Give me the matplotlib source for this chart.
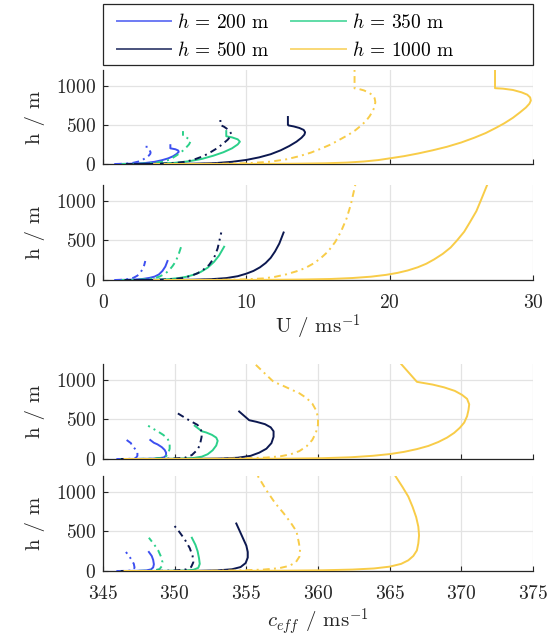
import matplotlib
matplotlib.use("Agg")
import matplotlib.pyplot as plt
from matplotlib.lines import Line2D
from matplotlib.patches import Rectangle

plt.rcParams['font.family'] = 'serif'
plt.rcParams['font.serif'] = ['cmr10']
plt.rcParams['mathtext.fontset'] = 'cm'
plt.rcParams['axes.formatter.use_mathtext'] = True

# =============================================================================
# DATA
# =============================================================================

BL_HEIGHTS = [200, 350, 500, 1000]

# --- panel 1: wind speed U, profiles with low-level jet (dd = dash-dot) ---
u_jet_200 = [0.85, 1.6, 2.3, 3.0, 3.6, 4.1, 4.55, 4.9, 5.15, 5.28, 5.25, 5.05, 4.8, 4.7, 4.7]
z_jet_200 = [0, 2, 6, 14, 28, 48, 72, 100, 130, 155, 172, 188, 197, 200, 240]
u_jet_200_dd = [0.85, 1.3, 1.7, 2.1, 2.45, 2.75, 3.0, 3.2, 3.3, 3.32, 3.25, 3.1, 3.04, 3.04]
z_jet_200_dd = [0, 2, 6, 15, 30, 52, 80, 108, 130, 150, 175, 195, 202, 240]
u_jet_350 = [1.5, 2.7, 3.9, 5.0, 6.0, 6.9, 7.7, 8.4, 9.0, 9.4, 9.55, 9.4, 9.0, 8.7, 8.6, 8.6]
z_jet_350 = [0, 1, 5, 15, 35, 65, 106, 150, 200, 250, 285, 315, 340, 350, 355, 420]
u_jet_350_dd = [1.3, 2.1, 2.9, 3.6, 4.2, 4.7, 5.1, 5.45, 5.75, 6.0, 6.1, 6.05, 5.85, 5.65, 5.58, 5.58]
z_jet_350_dd = [0, 2, 6, 14, 30, 60, 106, 150, 200, 250, 285, 310, 335, 350, 355, 420]
u_jet_500 = [2.2, 4.5, 6.3, 7.8, 9.0, 10.0, 10.9, 11.7, 12.4, 13.0, 13.5, 13.85, 14.05,
             14.1, 14.0, 13.7, 13.3, 12.95, 12.9, 12.9]
z_jet_500 = [0, 1, 4, 11, 28, 52, 85, 125, 175, 230, 285, 335, 375,
             405, 435, 460, 480, 492, 500, 600]
u_jet_500_dd = [1.6, 2.8, 4.0, 5.0, 5.8, 6.4, 7.0, 7.5, 7.95, 8.35, 8.7, 8.9, 8.95,
                8.8, 8.45, 8.2, 8.18]
z_jet_500_dd = [0, 1, 5, 12, 30, 60, 100, 150, 200, 255, 310, 355, 385,
                430, 475, 497, 600]
u_jet_1000 = [4.3, 8, 11, 13.5, 15.5, 17, 18.2, 19.2, 20, 21, 22, 23, 24, 25, 25.9,
              26.7, 27.4, 28.0, 28.6, 29.1, 29.5, 29.75, 29.85, 29.8, 29.6, 29.2,
              28.6, 27.9, 27.35, 27.35]
z_jet_1000 = [0, 0.5, 1.5, 4, 9, 18, 32, 50, 72, 100, 135, 175, 220, 275, 335,
              395, 460, 520, 590, 660, 720, 770, 810, 850, 885, 915,
              945, 962, 968, 1200]
u_jet_1000_dd = [3.5, 6, 8.5, 10.3, 11.7, 12.8, 13.7, 14.5, 15.2, 15.9, 16.5, 17.1,
                 17.6, 18.0, 18.35, 18.6, 18.8, 18.95, 19.0, 18.95, 18.8, 18.55,
                 18.2, 17.8, 17.55, 17.55]
z_jet_1000_dd = [0, 1, 4, 12, 30, 60, 100, 145, 195, 250, 310, 370,
                 430, 490, 550, 610, 670, 730, 790, 840, 880, 910,
                 940, 960, 966, 1200]

# --- panel 2: wind speed U, logarithmic profiles ---
u_log_200 = [0.85, 1.5, 2.2, 2.8, 3.25, 3.6, 3.9, 4.15, 4.35, 4.5]
z_log_200 = [0, 2, 6, 14, 27, 43, 70, 115, 170, 240]
u_log_200_dd = [0.85, 1.2, 1.55, 1.85, 2.15, 2.4, 2.6, 2.75, 2.87, 2.95]
z_log_200_dd = [0, 2, 6, 14, 30, 55, 90, 135, 185, 240]
u_log_350 = [1.5, 2.6, 3.6, 4.5, 5.2, 5.8, 6.3, 6.8, 7.3, 7.75, 8.1, 8.45]
z_log_350 = [0, 1, 4, 10, 22, 40, 65, 100, 155, 230, 310, 420]
u_log_350_dd = [1.3, 2.1, 2.8, 3.4, 3.9, 4.3, 4.6, 4.85, 5.07, 5.27, 5.45]
z_log_350_dd = [0, 2, 7, 18, 40, 75, 120, 175, 234, 320, 420]
u_log_500 = [2.2, 4.5, 6.3, 7.6, 8.6, 9.4, 10.0, 10.5, 10.95, 11.35, 11.7, 12.0, 12.3, 12.6]
z_log_500 = [0, 1, 4, 11, 24, 48, 80, 115, 160, 215, 280, 360, 460, 600]
u_log_500_dd = [1.5, 2.8, 3.9, 4.8, 5.5, 6.1, 6.6, 7.0, 7.4, 7.75, 8.0, 8.25]
z_log_500_dd = [0, 1, 4, 10, 24, 50, 85, 130, 190, 280, 400, 600]
u_log_1000 = [4.3, 8, 11.3, 14, 15.9, 17.4, 18.7, 19.75, 20.55, 21.25, 21.95, 22.55,
              23.1, 23.7, 24.25, 24.7, 25.2, 25.6, 26.05, 26.35, 26.8]
z_log_1000 = [0, 0.5, 2, 6, 13, 25, 42, 65, 90, 120, 160, 205,
              260, 330, 410, 500, 610, 730, 870, 1000, 1200]
u_log_1000_dd = [3.5, 6, 8.3, 10.0, 11.2, 12.0, 12.8, 13.5, 14.1, 14.7, 15.2, 15.7,
                 16.2, 16.6, 17.0, 17.3, 17.6]
z_log_1000_dd = [0, 0.5, 3, 9, 20, 40, 72, 110, 150, 210, 277, 360,
                 480, 610, 780, 960, 1200]

# --- panel 3: effective sound speed, low-level jet ---
c_jet_200 = [346.0, 347.3, 348.3, 348.9, 349.25, 349.4, 349.4, 349.3, 349.1, 348.8, 348.55, 348.3]
zc_jet_200 = [0, 1, 3, 8, 20, 45, 80, 115, 150, 185, 205, 240]
c_jet_200_dd = [346.0, 346.7, 347.1, 347.3, 347.4, 347.4, 347.3, 347.15, 347.0, 346.95, 346.65]
zc_jet_200_dd = [0, 1, 5, 15, 40, 80, 115, 145, 175, 200, 240]
c_jet_350 = [346.3, 348.5, 350.2, 351.3, 351.9, 352.3, 352.65, 352.9, 353.0, 352.9,
             352.6, 352.2, 351.9, 351.4]
zc_jet_350 = [0, 1, 4, 12, 30, 60, 110, 170, 230, 270, 305, 335, 350, 420]
c_jet_350_dd = [346.2, 347.5, 348.5, 349.1, 349.4, 349.55, 349.65, 349.65, 349.5,
                349.2, 348.9, 348.8, 348.15]
zc_jet_350_dd = [0, 1, 5, 15, 35, 70, 130, 200, 260, 305, 340, 350, 420]
c_jet_500 = [346.3, 349, 351.5, 353.2, 354.4, 355.3, 355.9, 356.4, 356.75, 356.9,
             356.9, 356.7, 356.3, 355.7, 355.2, 354.5]
zc_jet_500 = [0, 0.5, 2, 6, 16, 40, 80, 130, 200, 280, 350, 400, 440, 470, 490, 600]
c_jet_500_dd = [346.3, 348.3, 349.8, 350.7, 351.2, 351.55, 351.75, 351.88, 351.85,
                351.6, 351.2, 351.0, 350.0]
zc_jet_500_dd = [0, 1, 5, 15, 50, 110, 170, 280, 360, 430, 470, 490, 600]
c_jet_1000 = [346.5, 350, 354, 357.5, 360.3, 362.3, 363.8, 365.0, 366.0, 366.9, 367.7,
              368.4, 369.0, 369.5, 369.9, 370.2, 370.4, 370.5, 370.55, 370.4, 370.05,
              369.55, 368.8, 368.0, 367.2, 366.9, 365.8]
zc_jet_1000 = [0, 0.5, 1.5, 4, 10, 22, 40, 62, 90, 125, 165,
               215, 270, 330, 395, 460, 540, 620, 690, 760, 810,
               860, 905, 940, 965, 975, 1200]
c_jet_1000_dd = [346.5, 349.5, 352.5, 354.8, 356.4, 357.4, 358.1, 358.7, 359.2, 359.6,
                 359.85, 360.0, 360.0, 359.85, 359.6, 359.2, 358.7, 358.1, 357.5,
                 356.9, 355.6]
zc_jet_1000_dd = [0, 1, 3, 8, 18, 35, 60, 100, 160, 240,
                  330, 430, 530, 620, 700, 770, 830, 880, 930,
                  975, 1200]

# --- panel 4: effective sound speed, logarithmic profiles ---
c_log_200 = [346.0, 347.3, 348.0, 348.35, 348.5, 348.55, 348.5, 348.4, 348.2]
zc_log_200 = [0, 2, 7, 20, 45, 85, 140, 190, 240]
c_log_200_dd = [346.0, 346.7, 347.0, 347.15, 347.2, 347.15, 347.0, 346.85, 346.6]
zc_log_200_dd = [0, 2, 7, 20, 45, 90, 140, 180, 240]
c_log_350 = [346.3, 349, 350.6, 351.3, 351.65, 351.75, 351.7, 351.6, 351.45, 351.2]
zc_log_350 = [0, 1, 5, 15, 40, 90, 160, 250, 330, 420]
c_log_350_dd = [346.3, 347.8, 348.6, 348.95, 349.1, 349.15, 349.05, 348.85, 348.55, 348.2]
zc_log_350_dd = [0, 2, 8, 25, 60, 110, 180, 260, 340, 420]
c_log_500 = [346.3, 349, 351.5, 353.0, 354.0, 354.6, 354.95, 355.1, 355.1, 355.0,
             354.8, 354.55, 354.3]
zc_log_500 = [0, 0.5, 2, 8, 22, 50, 100, 170, 240, 320, 400, 500, 600]
c_log_500_dd = [346.3, 348.5, 350.0, 350.8, 351.15, 351.3, 351.25, 351.05, 350.7,
                350.3, 349.85]
zc_log_500_dd = [0, 1, 6, 20, 50, 110, 190, 290, 400, 500, 600]
c_log_1000 = [346.5, 350, 354, 357.5, 360.3, 362.4, 363.9, 365.0, 365.8, 366.3, 366.65,
              366.9, 367.0, 367.05, 367.0, 366.85, 366.6, 366.3, 365.9, 365.4]
zc_log_1000 = [0, 0.5, 1.5, 4, 9, 18, 32, 55, 90, 135, 190,
               260, 350, 450, 560, 680, 810, 940, 1060, 1200]
c_log_1000_dd = [346.5, 349.5, 352.5, 354.6, 356.2, 357.3, 358.0, 358.45, 358.7,
                 358.75, 358.65, 358.5, 358.1, 357.6, 357.0, 356.4, 355.8]
zc_log_1000_dd = [0, 1, 3, 8, 18, 36, 65, 110, 180,
                  270, 370, 500, 610, 730, 860, 1020, 1200]

# =============================================================================
# STYLE / LAYOUT
# =============================================================================

COLORS = ['#3d4ff0', '#2bd08a', '#0c1850', '#f8cc48']
DASHDOT = (0, (3.5, 2.2, 1.0, 2.2))
LW = 1.4
TXT = '#262626'

panels = [
    (0.0, 30.0, [0, 10, 20, 30],
     [(u_jet_200, z_jet_200, u_jet_200_dd, z_jet_200_dd),
      (u_jet_350, z_jet_350, u_jet_350_dd, z_jet_350_dd),
      (u_jet_500, z_jet_500, u_jet_500_dd, z_jet_500_dd),
      (u_jet_1000, z_jet_1000, u_jet_1000_dd, z_jet_1000_dd)]),
    (0.0, 30.0, [0, 10, 20, 30],
     [(u_log_200, z_log_200, u_log_200_dd, z_log_200_dd),
      (u_log_350, z_log_350, u_log_350_dd, z_log_350_dd),
      (u_log_500, z_log_500, u_log_500_dd, z_log_500_dd),
      (u_log_1000, z_log_1000, u_log_1000_dd, z_log_1000_dd)]),
    (345.0, 375.0, [345, 350, 355, 360, 365, 370, 375],
     [(c_jet_200, zc_jet_200, c_jet_200_dd, zc_jet_200_dd),
      (c_jet_350, zc_jet_350, c_jet_350_dd, zc_jet_350_dd),
      (c_jet_500, zc_jet_500, c_jet_500_dd, zc_jet_500_dd),
      (c_jet_1000, zc_jet_1000, c_jet_1000_dd, zc_jet_1000_dd)]),
    (345.0, 375.0, [345, 350, 355, 360, 365, 370, 375],
     [(c_log_200, zc_log_200, c_log_200_dd, zc_log_200_dd),
      (c_log_350, zc_log_350, c_log_350_dd, zc_log_350_dd),
      (c_log_500, zc_log_500, c_log_500_dd, zc_log_500_dd),
      (c_log_1000, zc_log_1000, c_log_1000_dd, zc_log_1000_dd)]),
]

# axes boxes in figure pixels (top, bottom)
W, H = 553, 636
X0, X1 = 103, 533
rows = [(70, 164), (185, 280), (364, 459), (476, 571)]

fig = plt.figure(figsize=(W / 100, H / 100), dpi=100)

axes = []
for i, ((top, bot), (xmin, xmax, xticks, curves)) in enumerate(zip(rows, panels)):
    ax = fig.add_axes([X0 / W, 1 - bot / H, (X1 - X0) / W, (bot - top) / H])
    for color, (xs, zs, xd, zd) in zip(COLORS, curves):
        ax.plot(xd, zd, color=color, lw=LW, linestyle=DASHDOT, zorder=3)
        ax.plot(xs, zs, color=color, lw=LW, zorder=3)
    ax.set_xlim(xmin, xmax)
    ax.set_ylim(0, 1200)
    ax.set_xticks(xticks)
    ax.set_yticks([0, 500, 1000])
    ax.grid(True, color='#e3e3e3', lw=0.9)
    ax.set_axisbelow(True)
    for s in ['top', 'right']:
        ax.spines[s].set_visible(False)
    for s in ['left', 'bottom']:
        ax.spines[s].set_color(TXT)
        ax.spines[s].set_linewidth(0.9)
    ax.tick_params(direction='in', length=3.5, width=0.8, color=TXT,
                   labelsize=14, labelcolor=TXT)
    ax.tick_params(axis='y', pad=5)
    ax.tick_params(axis='x', pad=10)
    ax.set_ylabel('h / m', fontsize=15, color=TXT, labelpad=8)
    if i in (0, 2):
        ax.tick_params(labelbottom=False)
    axes.append(ax)

axes[1].set_xlabel('U / ms$^{-1}$', fontsize=15, color=TXT, labelpad=1)
axes[3].set_xlabel('$c_{eff}$ / ms$^{-1}$', fontsize=15, color=TXT, labelpad=2)

# legend box spanning the axes width; entries filled column-wise
box = Rectangle((X0 / W, 1 - 65 / H), (X1 - X0) / W, 61 / H,
                transform=fig.transFigure, fill=False, ec=TXT, lw=0.9)
fig.patches.append(box)

order = [0, 2, 1, 3]
handles = [Line2D([], [], color=COLORS[k], lw=LW, alpha=0.75) for k in order]
labels = ['$h$ = %d m' % BL_HEIGHTS[k] for k in order]
fig.legend(handles, labels, ncol=2, loc='upper left',
           bbox_to_anchor=(117 / W, 1 - 13 / H), fontsize=14, frameon=False,
           handlelength=2.8, handletextpad=0.3, borderpad=0, borderaxespad=0,
           labelspacing=0.45, columnspacing=1.1)

fig.savefig('out.png', dpi=100)
